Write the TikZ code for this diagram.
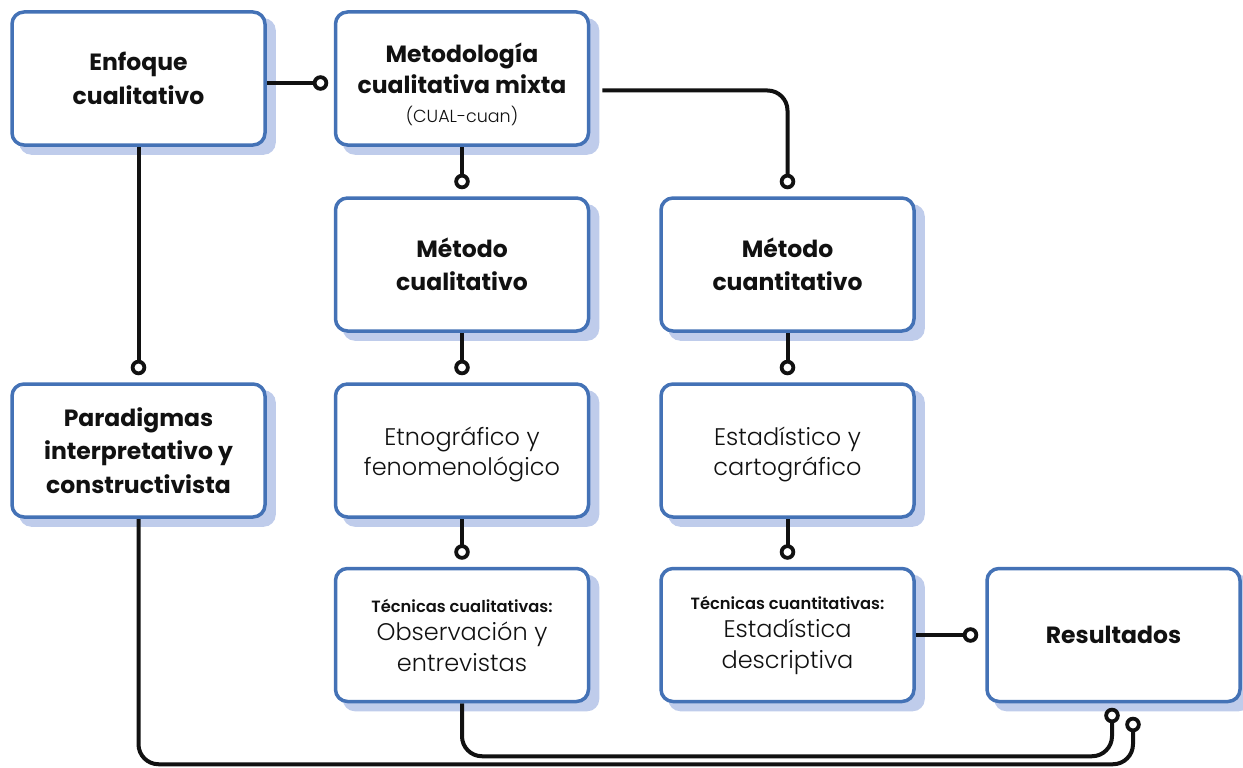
\documentclass[tikz,border=0pt]{standalone}
\usepackage{fontspec}
\setmainfont{Poppins}
\IfFontExistsTF{Poppins Light}{\newfontfamily\lightf{Poppins Light}}{\newfontfamily\lightf{Poppins}}
\usetikzlibrary{arrows.meta,backgrounds,calc}
\pgfdeclarelayer{shadowlayer}
\pgfsetlayers{shadowlayer,background,main}
\definecolor{bblue}{HTML}{4472B6}
\definecolor{sblue}{HTML}{BFCCEB}
\definecolor{ink}{HTML}{111111}
\newcommand\ttlf{\fontsize{23.5}{33.5}\selectfont\bfseries}
\newcommand\lgtf{\fontsize{24}{30.5}\selectfont\lightf\mdseries}
\newcommand\smbf{\fontsize{16.3}{20}\selectfont\bfseries}
\newcommand\smlt{\fontsize{17.5}{20}\selectfont\lightf\mdseries}
\tikzset{
  box/.style={draw=bblue, line width=3.5pt, fill=white, rounded corners=12pt,
    minimum width=253pt, minimum height=133pt, align=center, inner sep=0pt,
    text=ink},
  shade/.style={fill=sblue, rounded corners=12pt},
  ttl/.style={font=\ttlf},
  lgt/.style={font=\lgtf},
  conn/.style={draw=ink, line width=4pt, rounded corners=20pt,
    -{Circle[length=15.5pt, width=15.5pt, line width=3.8pt, fill=white]}},
}
\begin{document}
\begin{tikzpicture}[x=1pt,y=-1pt]
\useasboundingbox (0,0) rectangle (1243,768);
\node[box,font=\fontsize{23.5}{31}\selectfont\bfseries] (met) at (462,78.5) {\rule{0pt}{32pt}Metodología\\cualitativa mixta\\[-2pt]\smlt (CUAL-cuan)};
\node[box,ttl] (enf) at (138.5,78.5) {Enfoque\\cualitativo};
\node[box,ttl] (mcl) at (462,264.5) {Método\\cualitativo};
\node[box,ttl] (mcn) at (787.5,264.5) {Método\\cuantitativo};
\node[box,ttl] (par) at (138.5,450.5) {Paradigmas\\interpretativo y\\constructivista};
\node[box,lgt] (etn) at (462,450.5) {\rule{0pt}{26pt}Etnográfico y\\fenomenológico};
\node[box,lgt] (est) at (787.5,450.5) {\rule{0pt}{26pt}Estadístico y\\cartográfico};
\node[box,lgt] (tcl) at (462,635) {\smbf Técnicas cualitativas:\\[-2.5pt]Observación y\\[0.5pt]entrevistas};
\node[box,lgt] (tcn) at (787.5,635) {\smbf Técnicas cuantitativas:\\[-2.5pt]Estadística\\[0.5pt]descriptiva};
\node[box,ttl] (res) at (1113.5,635) {Resultados};
\coordinate (rin) at ([xshift=-1.5pt,yshift=-4.5pt]res.south);
\coordinate (rout) at ([xshift=19.5pt,yshift=-13.5pt]res.south);
\begin{pgfonlayer}{shadowlayer}
\foreach \n in {met,enf,mcl,mcn,par,etn,est,tcl,tcn,res}
  \fill[shade] ([shift={(9pt,-8pt)}]\n.south west) rectangle ([shift={(9pt,-8pt)}]\n.north east);
\end{pgfonlayer}
\begin{pgfonlayer}{background}
\draw[conn, shorten >=5.5pt] ([yshift=-4.5pt]enf.east) -- ([yshift=-4.5pt]met.west);
\draw[conn, shorten >=7pt] ([xshift=12pt,yshift=-12pt]met.east) -| (mcn.north);
\draw[conn, shorten >=7pt] (met.south) -- (mcl.north);
\draw[conn, shorten >=7pt] (enf.south) -- (par.north);
\draw[conn, shorten >=7pt] (mcl.south) -- (etn.north);
\draw[conn, shorten >=7pt] (mcn.south) -- (est.north);
\draw[conn, shorten >=7pt] (etn.south) -- (tcl.north);
\draw[conn, shorten >=7pt] (est.south) -- (tcn.north);
\draw[conn, shorten >=7pt] (tcn.east) -- (res.west);
\draw[conn] (tcl.south) |- ($(rin)+(0,48.5)$) -- (rin);
\draw[conn] (par.south) |- ($(rout)+(0,47.5)$) -- (rout);
\end{pgfonlayer}
\end{tikzpicture}
\end{document}
